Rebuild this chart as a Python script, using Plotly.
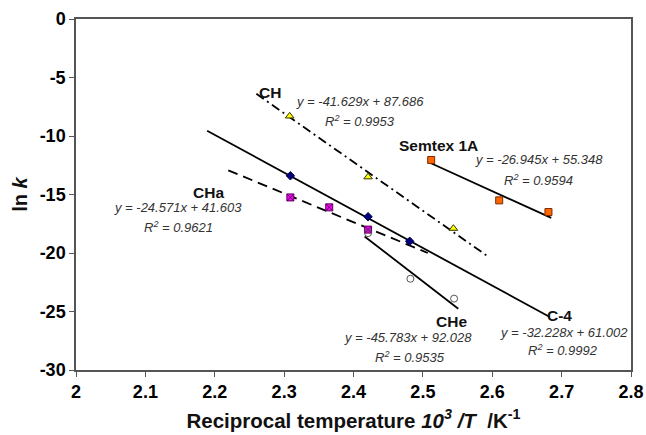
import plotly.graph_objects as go

# ---- data ----
ch_x = [2.308, 2.421, 2.544]
ch_y = [-8.3, -13.5, -17.9]
semtex_x = [2.512, 2.610, 2.681]
semtex_y = [-12.05, -15.5, -16.5]
c4_x = [2.309, 2.421, 2.481]
c4_y = [-13.4, -16.9, -19.0]
cha_x = [2.309, 2.365, 2.421]
cha_y = [-15.25, -16.1, -18.0]
che_x = [2.421, 2.482, 2.545]
che_y = [-18.3, -22.2, -23.9]

# trendline coefficients (slope, intercept) and drawn x-range
ch_fit = (-41.629, 87.686); ch_range = [2.26, 2.594]
semtex_fit = (-26.945, 55.348); semtex_range = [2.507, 2.685]
c4_fit = (-32.228, 61.002); c4_range = [2.189, 2.683]
cha_fit = (-24.571, 41.603); cha_range = [2.2195, 2.507]
che_fit = (-45.783, 92.028); che_range = [2.416, 2.551]

x_ticks = [2, 2.1, 2.2, 2.3, 2.4, 2.5, 2.6, 2.7, 2.8]
y_ticks = [0, -5, -10, -15, -20, -25, -30]

fig = go.Figure()

def trend(rng, fit, dash):
    fig.add_trace(go.Scatter(
        x=rng, y=[fit[0] * v + fit[1] for v in rng], mode="lines",
        line=dict(color="black", width=1.8, dash=dash),
        showlegend=False, hoverinfo="skip"))

trend(ch_range, ch_fit, "9px,4px,2px,4px")
trend(semtex_range, semtex_fit, "solid")
trend(c4_range, c4_fit, "solid")
trend(cha_range, cha_fit, "10px,6px")
trend(che_range, che_fit, "solid")

def pts(x, y, symbol, fill, line, size):
    fig.add_trace(go.Scatter(
        x=x, y=y, mode="markers",
        marker=dict(symbol=symbol, color=fill, size=size,
                    line=dict(color=line, width=1)),
        showlegend=False))

pts(ch_x, ch_y, "triangle-up", "#FFFF00", "#333300", 7.5)
pts(semtex_x, semtex_y, "square", "#FF6600", "#7a2a00", 7)
pts(c4_x, c4_y, "diamond", "#000080", "#000040", 6.5)
pts(cha_x, cha_y, "square-x", "#FF00FF", "#550055", 7)
pts(che_x, che_y, "circle-open", "#555555", "#555555", 7)

FAM = "Liberation Sans, Arial"
bold_font = dict(family=FAM, size=15.5, color="#111")
eq_font = dict(family=FAM, size=13, color="#333")

def label(x, y, text, font):
    fig.add_annotation(x=x, y=y, xref="x", yref="y", text=text, showarrow=False,
                       font=font, xanchor="center", yanchor="middle")

label(2.2795, -6.24, "<b>CH</b>", bold_font)
label(2.409, -7.09, "<i>y = -41.629x + 87.686</i>", eq_font)
label(2.409, -8.72, "<i>R<sup>2</sup> = 0.9953</i>", eq_font)

label(2.523, -10.85, "<b>Semtex 1A</b>", bold_font)
label(2.668, -12.0, "<i>y = -26.945x + 55.348</i>", eq_font)
label(2.667, -13.76, "<i>R<sup>2</sup> = 0.9594</i>", eq_font)

label(2.1916, -14.79, "<b>CHa</b>", bold_font)
label(2.1477, -16.07, "<i>y = -24.571x + 41.603</i>", eq_font)
label(2.1477, -17.75, "<i>R<sup>2</sup> = 0.9621</i>", eq_font)

label(2.5418, -25.87, "<b>CHe</b>", bold_font)
label(2.479, -27.26, "<i>y = -45.783x + 92.028</i>", eq_font)
label(2.481, -28.89, "<i>R<sup>2</sup> = 0.9535</i>", eq_font)

label(2.6974, -25.35, "<b>C-4</b>", bold_font)
label(2.703, -26.78, "<i>y = -32.228x + 61.002</i>", eq_font)
label(2.7017, -28.33, "<i>R<sup>2</sup> = 0.9992</i>", eq_font)

axis_common = dict(showgrid=False, zeroline=False, showline=True, linecolor="#555",
                   linewidth=1.5, mirror=True, ticks="outside", ticklen=5,
                   tickcolor="#555", tickwidth=1.2, automargin=False,
                   tickfont=dict(family=FAM, size=18, color="black"))

fig.update_layout(
    width=646, height=435,
    margin=dict(l=76, r=15, t=19, b=65),
    paper_bgcolor="white", plot_bgcolor="white",
    xaxis=dict(range=[2, 2.8], tickvals=x_ticks,
               ticktext=[f"<b>{v:g}</b>" for v in x_ticks],
               title=dict(text="<b>Reciprocal temperature <i>10<sup>3</sup> /T</i>  /K<sup>-1</sup></b>",
                          font=dict(family=FAM, size=20.5, color="#111"),
                          standoff=12),
               **axis_common),
    yaxis=dict(range=[-30, 0], tickvals=y_ticks,
               ticktext=[f"<b>{v:g}</b>" for v in y_ticks],
               title=dict(text="<b>ln <i>k</i></b>",
                          font=dict(family=FAM, size=20, color="#111"),
                          standoff=7),
               **axis_common),
)

fig.write_html("out.html", config={"displayModeBar": False},
               post_script="document.body.style.margin='0';document.body.style.padding='0';")
